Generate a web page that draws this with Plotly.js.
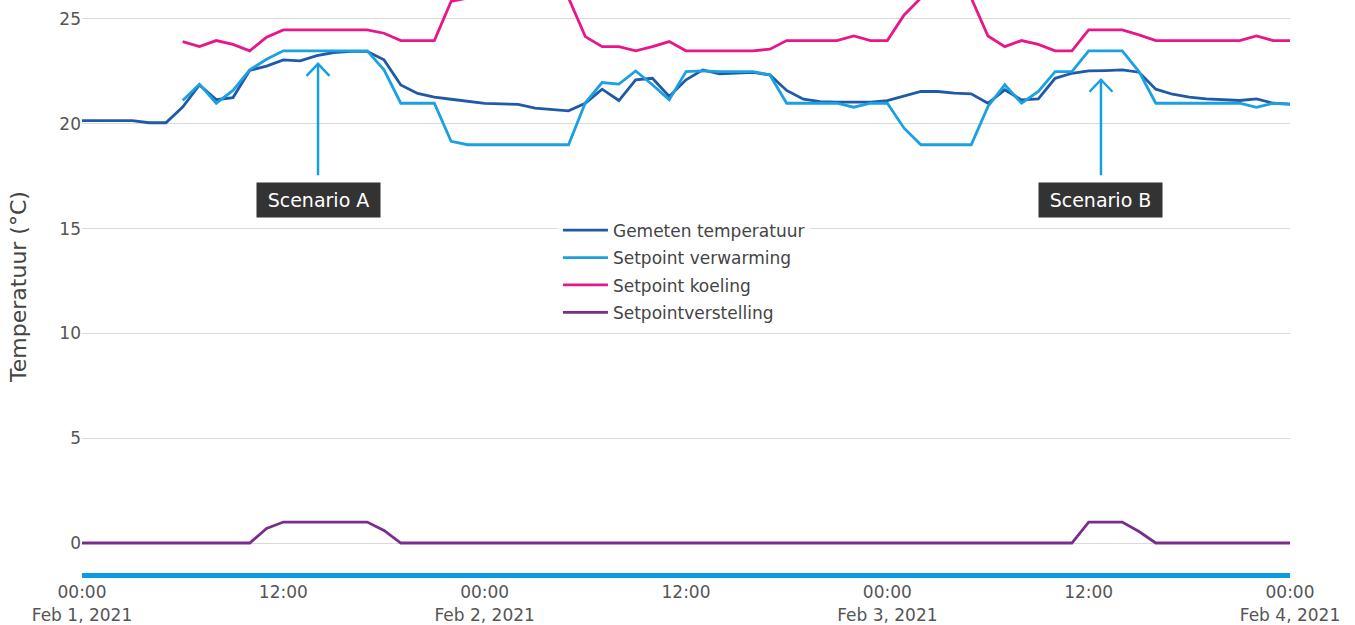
<!DOCTYPE html>
<html>
<head>
<meta charset="utf-8">
<script src="https://cdn.plot.ly/plotly-3.0.1.min.js"></script>
<style>html,body{margin:0;padding:0;background:#fff;}#chart{width:1355px;height:625px;}</style>
</head>
<body>
<div id="chart"></div>
<script>
var times = [
'2021-02-01 00:00','2021-02-01 01:00','2021-02-01 02:00','2021-02-01 03:00','2021-02-01 04:00','2021-02-01 05:00',
'2021-02-01 06:00','2021-02-01 07:00','2021-02-01 08:00','2021-02-01 09:00','2021-02-01 10:00','2021-02-01 11:00',
'2021-02-01 12:00','2021-02-01 13:00','2021-02-01 14:00','2021-02-01 15:00','2021-02-01 16:00','2021-02-01 17:00',
'2021-02-01 18:00','2021-02-01 19:00','2021-02-01 20:00','2021-02-01 21:00','2021-02-01 22:00','2021-02-01 23:00',
'2021-02-02 00:00','2021-02-02 01:00','2021-02-02 02:00','2021-02-02 03:00','2021-02-02 04:00','2021-02-02 05:00',
'2021-02-02 06:00','2021-02-02 07:00','2021-02-02 08:00','2021-02-02 09:00','2021-02-02 10:00','2021-02-02 11:00',
'2021-02-02 12:00','2021-02-02 13:00','2021-02-02 14:00','2021-02-02 15:00','2021-02-02 16:00','2021-02-02 17:00',
'2021-02-02 18:00','2021-02-02 19:00','2021-02-02 20:00','2021-02-02 21:00','2021-02-02 22:00','2021-02-02 23:00',
'2021-02-03 00:00','2021-02-03 01:00','2021-02-03 02:00','2021-02-03 03:00','2021-02-03 04:00','2021-02-03 05:00',
'2021-02-03 06:00','2021-02-03 07:00','2021-02-03 08:00','2021-02-03 09:00','2021-02-03 10:00','2021-02-03 11:00',
'2021-02-03 12:00','2021-02-03 13:00','2021-02-03 14:00','2021-02-03 15:00','2021-02-03 16:00','2021-02-03 17:00',
'2021-02-03 18:00','2021-02-03 19:00','2021-02-03 20:00','2021-02-03 21:00','2021-02-03 22:00','2021-02-03 23:00',
'2021-02-04 00:00'
];

var gemeten = [
20.15,20.15,20.15,20.15,20.05,20.05,
20.8,21.85,21.15,21.25,22.55,22.75,
23.05,23.0,23.25,23.4,23.45,23.45,
23.05,21.85,21.45,21.27,21.17,21.06,
20.97,20.95,20.93,20.75,20.7,20.62,
20.98,21.65,21.11,22.1,22.17,21.3,
22.1,22.57,22.38,22.4,22.45,22.33,
21.59,21.17,21.06,21.03,21.03,21.03,
21.1,21.33,21.54,21.54,21.46,21.43,
20.98,21.62,21.14,21.19,22.17,22.41,
22.52,22.54,22.57,22.46,21.65,21.41,
21.27,21.19,21.14,21.11,21.19,20.98,
20.94
];

var verwarming = [
null,null,null,null,null,null,
21.11,21.89,20.98,21.59,22.57,23.08,
23.48,23.48,23.48,23.48,23.48,23.48,
22.57,20.98,20.98,20.98,19.16,19.0,
19.0,19.0,19.0,19.0,19.0,19.0,
21.0,21.97,21.89,22.52,21.86,21.14,
22.49,22.52,22.49,22.49,22.49,22.33,
20.98,20.98,20.98,20.98,20.79,20.98,
20.98,19.79,19.0,19.0,19.0,19.0,
20.83,21.86,20.98,21.54,22.49,22.49,
23.48,23.48,23.48,22.49,20.98,20.98,
20.98,20.98,20.98,20.98,20.78,20.98,
20.94
];

var koeling = [
null,null,null,null,null,null,
23.92,23.68,23.97,23.79,23.48,24.13,
24.48,24.48,24.48,24.48,24.48,24.48,
24.32,23.97,23.97,23.97,25.84,26.0,
26.0,26.0,26.0,26.0,26.0,26.0,
24.16,23.68,23.68,23.48,23.68,23.92,
23.48,23.48,23.48,23.48,23.48,23.56,
23.97,23.97,23.97,23.97,24.19,23.97,
23.97,25.19,26.0,26.0,26.0,26.0,
24.19,23.68,23.97,23.79,23.48,23.48,
24.48,24.48,24.48,24.24,23.97,23.97,
23.97,23.97,23.97,23.97,24.19,23.97,
23.97
];

var verstelling = [
0,0,0,0,0,0,
0,0,0,0,0,0.7,
1,1,1,1,1,1,
0.6,0,0,0,0,0,
0,0,0,0,0,0,
0,0,0,0,0,0,
0,0,0,0,0,0,
0,0,0,0,0,0,
0,0,0,0,0,0,
0,0,0,0,0,0,
1,1,1,0.55,0,0,
0,0,0,0,0,0,
0
];

var seriesNames = ['Gemeten temperatuur','Setpoint verwarming','Setpoint koeling','Setpointverstelling'];
var seriesColors = ['#1f5aa8','#1ba1e2','#e8168a','#7a2e8c'];
var seriesData = [gemeten, verwarming, koeling, verstelling];

var annTexts = ['Scenario A','Scenario B'];
var annX = ['2021-02-01 14:04','2021-02-03 12:44'];
var annY = [22.86, 22.1];

var FONT = 'DejaVu Sans, Verdana, sans-serif';
var ARROW = '#15a0e6';

var traces = seriesData.map(function(d, i){
  return {
    type: 'scatter', mode: 'lines', x: times, y: d, name: seriesNames[i],
    legendgroup: 'g' + i,
    line: {color: seriesColors[i], width: 2.8}, connectgaps: false
  };
});

var annotations = annTexts.map(function(t, i){
  return {
    x: annX[i], y: annY[i], xref: 'x', yref: 'y',
    text: t, showarrow: true, ax: 0, ay: (i === 0 ? 136 : 120), axref: 'pixel', ayref: 'pixel',
    arrowhead: 0, arrowwidth: 2.5, arrowcolor: ARROW,
    startstandoff: 7,
    font: {family: FONT, size: 19, color: '#ffffff'},
    bgcolor: '#333333', borderpad: 4, width: 115, height: 26
  };
});

// open chevron arrowheads, anchored at each annotation point
var shapes = annTexts.map(function(t, i){
  return {
    type: 'path', xref: 'x', yref: 'y',
    xsizemode: 'pixel', ysizemode: 'pixel',
    xanchor: annX[i], yanchor: annY[i],
    path: 'M-11.5,-12 L0,0 L11.5,-12',
    line: {color: ARROW, width: 2.5}
  };
});

var layout = {
  width: 1355, height: 625,
  margin: {l: 82, r: 65, t: 0, b: 52},
  paper_bgcolor: '#ffffff', plot_bgcolor: '#ffffff',
  font: {family: FONT, size: 17, color: '#555555'},
  showlegend: true,
  legend: {x: 0.394, y: 0.629, xanchor: 'left', yanchor: 'top', bgcolor: '#ffffff',
           traceorder: 'grouped', tracegroupgap: 2.3,
           font: {family: FONT, size: 17, color: '#444444'}, itemwidth: 45},
  xaxis: {
    type: 'date', range: ['2021-02-01 00:00','2021-02-04 00:00'],
    dtick: 43200000, tick0: '2021-02-01 00:00',
    showgrid: false, zeroline: false, showline: true, linecolor: '#0b9be3', linewidth: 5,
    ticks: '', tickfont: {family: FONT, size: 17, color: '#555555'}
  },
  yaxis: {
    range: [-1.43, 25.905], dtick: 5, tick0: 0,
    showgrid: true, gridcolor: '#dadada', gridwidth: 1, zeroline: false, showline: false,
    ticks: '', tickfont: {family: FONT, size: 17, color: '#555555'},
    title: {text: 'Temperatuur (°C)', font: {family: FONT, size: 22, color: '#444444'}, standoff: 26}
  },
  annotations: annotations,
  shapes: shapes
};

Plotly.newPlot('chart', traces, layout, {displayModeBar: false, staticPlot: true});
</script>
</body>
</html>
